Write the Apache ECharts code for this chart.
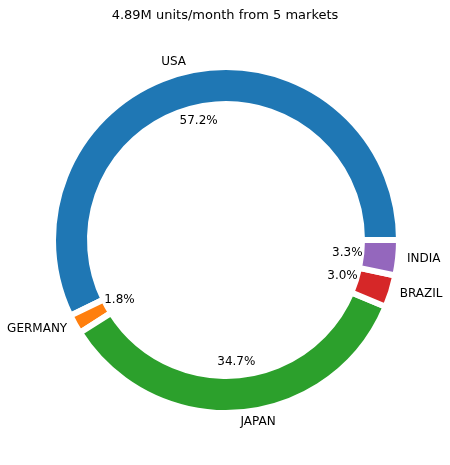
<!DOCTYPE html>
<html>
<head>
<meta charset="utf-8">
<script src="https://cdn.jsdelivr.net/npm/echarts@6/dist/echarts.min.js"></script>
<style>html,body{margin:0;padding:0;background:#fff;}#c{width:450px;height:465px;}</style>
</head>
<body>
<div id="c"></div>
<script>
const markets = ['USA', 'GERMANY', 'JAPAN', 'BRAZIL', 'INDIA'];
const unitsK = [2797, 88, 1697, 147, 161];
const colors = ['#1f77b4', '#ff7f0e', '#2ca02c', '#d62728', '#9467bd'];
const titleText = '4.89M units/month from 5 markets';

const total = unitsK.reduce((a, b) => a + b, 0);
const data = markets.map((m, i) => ({ name: m, value: unitsK[i], itemStyle: { color: colors[i] } }));
const font = 'DejaVu Sans';
const chart = echarts.init(document.getElementById('c'));
chart.setOption({
  animation: false,
  backgroundColor: '#fff',
  title: { text: titleText, left: 'center', top: 4,
    textStyle: { fontFamily: font, fontSize: 13, fontWeight: 'normal', color: '#000' } },
  series: [
    {
      type: 'pie', center: [226, 240], radius: [136, 173],
      startAngle: 0, clockwise: false, avoidLabelOverlap: false, silent: true,
      itemStyle: { borderColor: '#fff', borderWidth: 6 },
      label: { show: true, position: 'outside', formatter: '{b}', fontFamily: font, fontSize: 12, color: '#000' },
      labelLine: { show: false, length: 10, length2: -6 },
      data: data
    },
    {
      type: 'pie', center: [226, 240], radius: [109, 129],
      startAngle: 0, clockwise: false, avoidLabelOverlap: false, silent: true,
      itemStyle: { color: 'rgba(0,0,0,0)' },
      label: { show: true, position: 'inside', fontFamily: font, fontSize: 12, color: '#000',
        formatter: p => (p.value / total * 100).toFixed(1) + '%' },
      labelLine: { show: false },
      data: markets.map((m, i) => ({ name: m, value: unitsK[i] }))
    }
  ]
});
</script>
</body>
</html>
